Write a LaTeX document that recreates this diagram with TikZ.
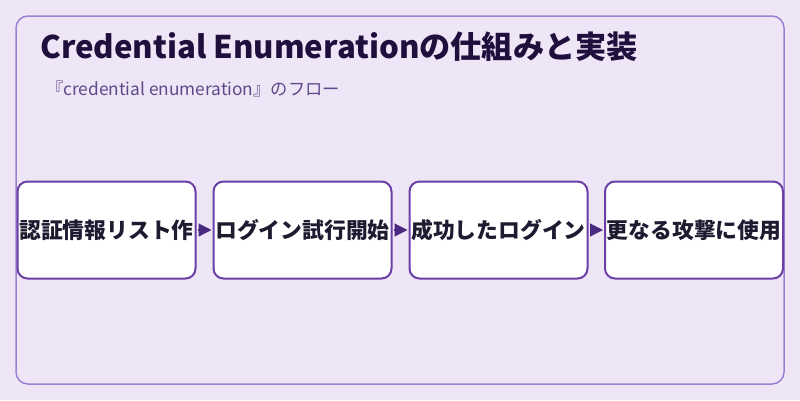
\documentclass[tikz,border=0pt]{standalone}
\usepackage{fontspec}
\setmainfont{Noto Sans CJK JP}
\usetikzlibrary{arrows.meta}
\definecolor{bgc}{HTML}{EEE6F6}
\definecolor{panelline}{HTML}{9D7FD2}
\definecolor{boxline}{HTML}{6A3FA6}
\definecolor{arrowc}{HTML}{4A2A80}
\definecolor{titlec}{HTML}{1F0F3D}
\definecolor{subc}{HTML}{5C4A88}
\definecolor{textc}{HTML}{1E1A30}
\tikzset{
  stepbox/.style={draw=boxline, line width=2pt, fill=white, rounded corners=10pt,
    minimum width=178pt, minimum height=97pt, inner sep=0pt, anchor=center},
  steptext/.style={inner sep=0pt, anchor=center, font=\fontsize{21.8}{24}\selectfont\bfseries, text=textc},
  flowarrow/.style={draw=arrowc, line width=1.2pt, -{Triangle[length=13pt,width=13pt]}, shorten >=1pt, shorten <=1pt}
}
\begin{document}
\begin{tikzpicture}[x=1pt,y=-1pt]
\fill[bgc] (0,0) rectangle (800,400);
\useasboundingbox (0,0) rectangle (800,400);
\draw[panelline, line width=1.5pt, rounded corners=12pt] (16,16) rectangle (784,384);
\node[anchor=base west, inner sep=0pt, text=titlec, font=\fontsize{31.2}{34}\selectfont\bfseries] (title) at (40,58) {Credential Enumerationの仕組みと実装};
\node[anchor=base west, inner sep=0pt, text=subc, font=\fontsize{17.3}{20}\selectfont] (sub) at (46,95) {『credential enumeration』のフロー};
\node[stepbox] (b1) at (106.5,230) {};
\node[stepbox] (b2) at (302.5,230) {};
\node[stepbox] (b3) at (498.5,230) {};
\node[stepbox] (b4) at (694,230) {};
\node[steptext] (t1) at (b1.center) {認証情報リスト作};
\node[steptext] (t2) at (b2.center) {ログイン試行開始};
\node[steptext] (t3) at (b3.center) {成功したログイン};
\node[steptext] (t4) at (b4.center) {更なる攻撃に使用};
\draw[flowarrow] (b1.east) -- (b2.west);
\draw[flowarrow] (b2.east) -- (b3.west);
\draw[flowarrow] (b3.east) -- (b4.west);
\end{tikzpicture}
\end{document}
